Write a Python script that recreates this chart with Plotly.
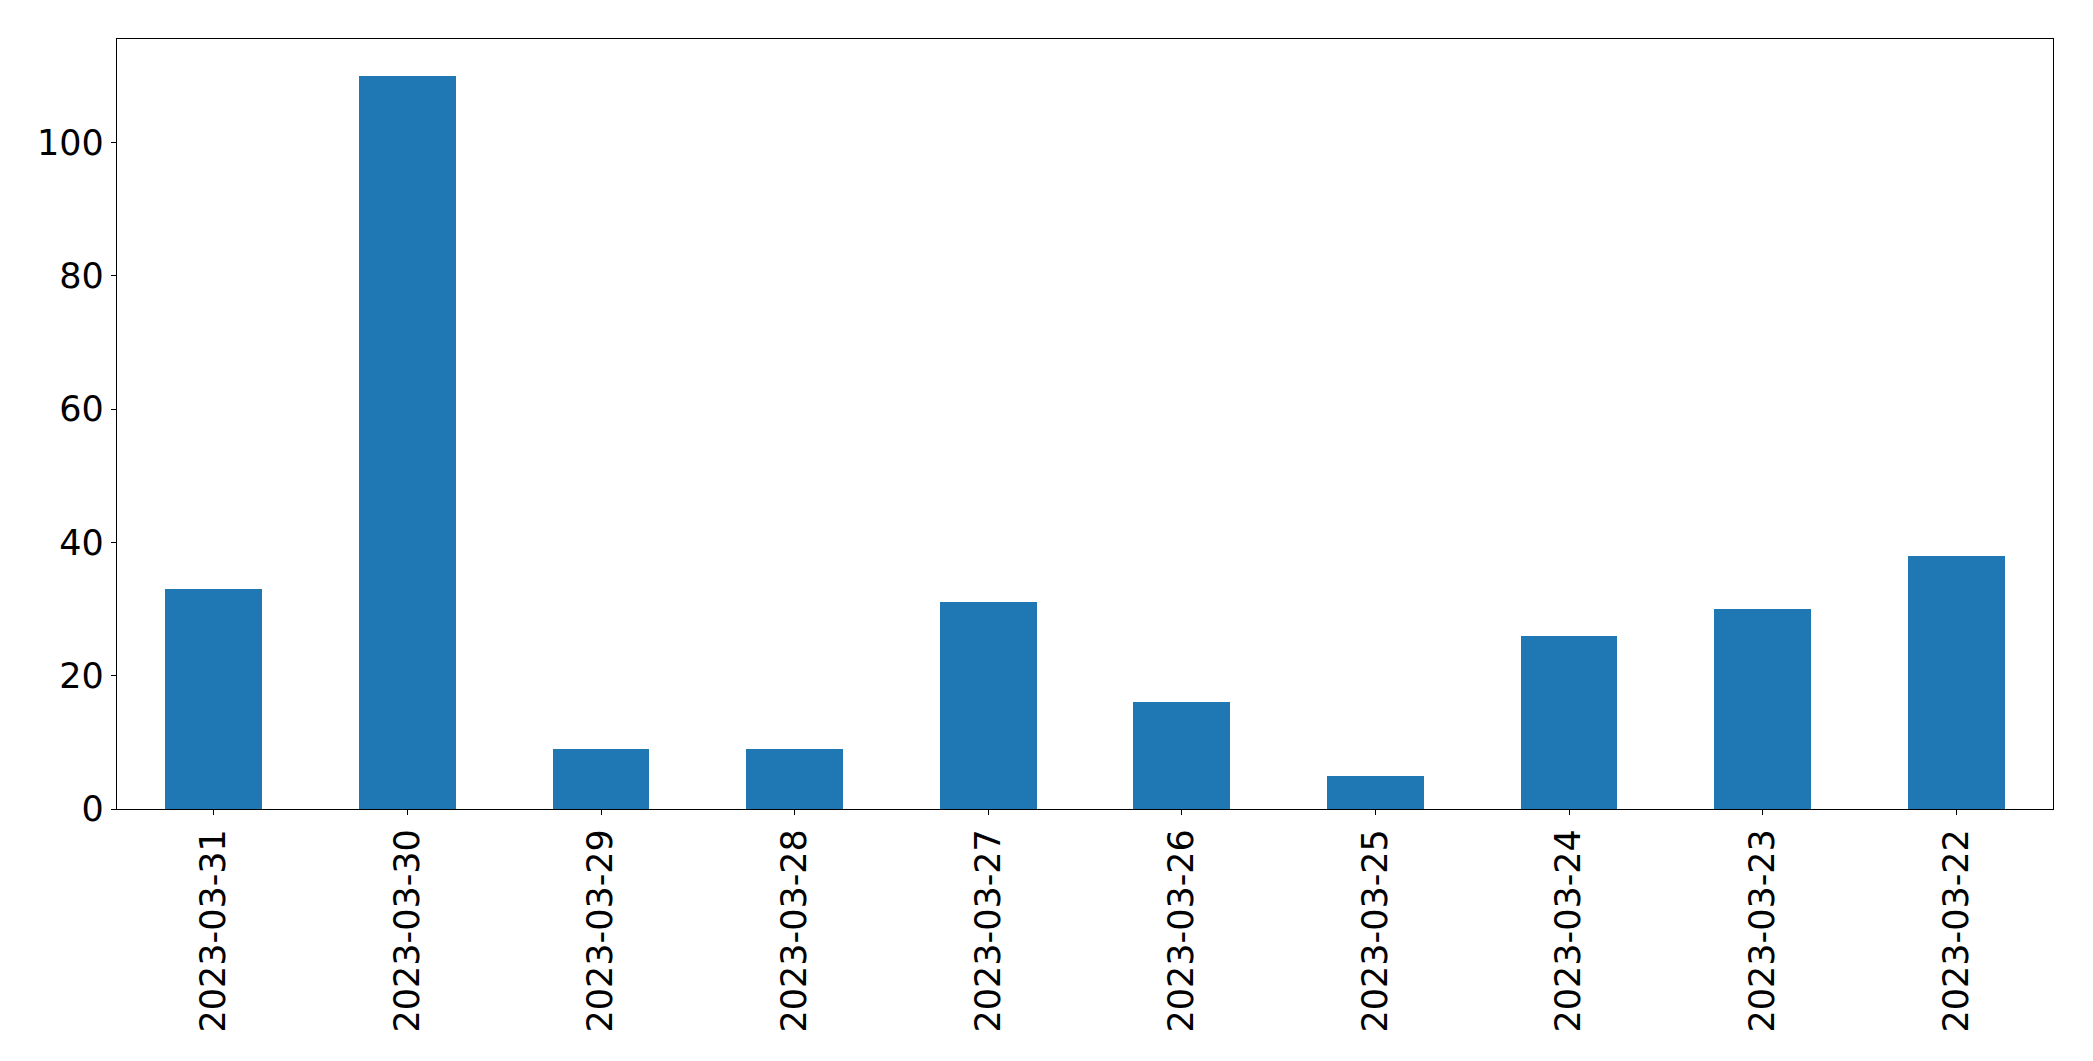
import plotly.graph_objects as go

dates = ["2023-03-31", "2023-03-30", "2023-03-29", "2023-03-28", "2023-03-27",
         "2023-03-26", "2023-03-25", "2023-03-24", "2023-03-23", "2023-03-22"]
counts = [33, 110, 9, 9, 31, 16, 5, 26, 30, 38]
y_ticks = [0, 20, 40, 60, 80, 100]

fig = go.Figure(go.Bar(x=dates, y=counts, width=0.5, marker_color="#1f77b4",
                       marker_line_width=0))

axis_common = dict(showline=True, linecolor="black", linewidth=1.3, mirror=True,
                   ticks="outside", ticklen=5, tickwidth=1.3, tickcolor="black",
                   showgrid=False, zeroline=False,
                   tickfont=dict(family="DejaVu Sans", size=35, color="black"))

fig.update_xaxes(type="category", range=[-0.5, 9.5], tickangle=-90,
                 ticklabelstandoff=0, **axis_common)
fig.update_yaxes(range=[0, 115.5], tickvals=y_ticks, ticklabelstandoff=0,
                 **axis_common)

fig.update_layout(width=2077, height=1045, plot_bgcolor="white", paper_bgcolor="white",
                  margin=dict(l=109, r=32, t=31, b=244), showlegend=False,
                  bargap=0)

fig.write_html("out.html")
